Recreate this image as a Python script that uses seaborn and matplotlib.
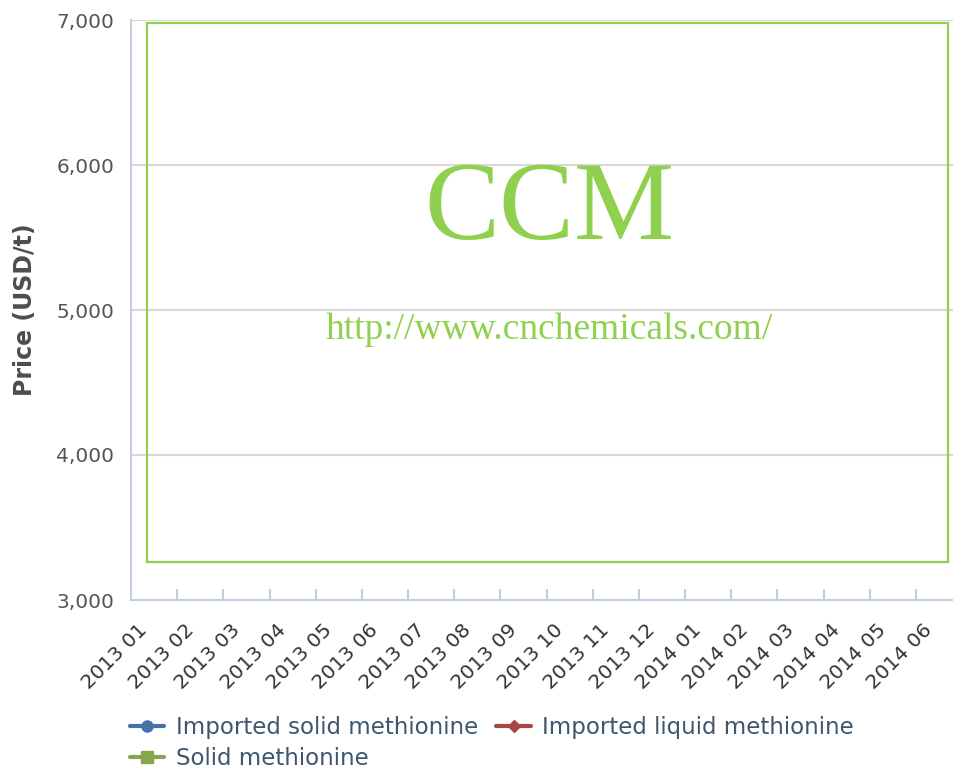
import numpy as np
import pandas as pd
import matplotlib
matplotlib.use('Agg')
import matplotlib.pyplot as plt
from matplotlib.patches import Rectangle
import seaborn as sns

# categories on the x axis
months = ['2013 01', '2013 02', '2013 03', '2013 04', '2013 05', '2013 06',
          '2013 07', '2013 08', '2013 09', '2013 10', '2013 11', '2013 12',
          '2014 01', '2014 02', '2014 03', '2014 04', '2014 05', '2014 06']

# series shown in the legend - no points are visible in the picture
imported_solid = [np.nan] * len(months)
imported_liquid = [np.nan] * len(months)
solid = [np.nan] * len(months)

y_ticks = [3000, 4000, 5000, 6000, 7000]

sns.set_style('white')
plt.rcParams['font.family'] = ['DejaVu Sans']

fig = plt.figure(figsize=(9.54, 7.72), dpi=100)
W, H = 954, 772
ax = fig.add_axes([131 / W, 172 / H, 831 / W, 580 / H])

df = pd.DataFrame({'month': months,
                   'Imported solid methionine': imported_solid,
                   'Imported liquid methionine': imported_liquid,
                   'Solid methionine': solid})
x = np.arange(len(months))

styles = {
    'Imported solid methionine': dict(color='#4572A7', marker='o', markersize=8),
    'Imported liquid methionine': dict(color='#AA4643', marker='D', markersize=6),
    'Solid methionine': dict(color='#89A54E', marker='s', markersize=8),
}
handles = {}
for name, st in styles.items():
    line, = ax.plot(x, df[name], lw=3, label=name, **st)
    handles[name] = line

ax.set_xlim(-0.5, len(months) - 0.5)
ax.set_ylim(3000, 7000)
ax.set_yticks(y_ticks)
ax.set_yticklabels([f'{v:,}' for v in y_ticks])
ax.yaxis.grid(True, color='#D8D8D8', lw=1.5)
ax.set_axisbelow(True)
ax.tick_params(axis='y', length=0, pad=12, labelsize=14.5, labelcolor='#555555')

ax.set_xticks(x - 0.12)
ax.set_xticklabels(months, rotation=45, ha='right', va='baseline',
                   rotation_mode='anchor', fontsize=14.5, color='#333333')
ax.set_xticks(np.arange(0.5, len(months) - 1, 1), minor=True)
ax.tick_params(axis='x', which='major', length=0, pad=22)
ax.tick_params(axis='x', which='minor', bottom=True, direction='in', length=8,
               color='#C0D0E0', width=1.5)

for s in ['top', 'right']:
    ax.spines[s].set_visible(False)
for s in ['left', 'bottom']:
    ax.spines[s].set_color('#C0D0E0')
    ax.spines[s].set_linewidth(1.5)

ax.set_ylabel('Price (USD/t)', fontsize=17, fontweight='bold', color='#4D4D4D',
              labelpad=14)

# watermark frame and text
green = '#8FD14F'
fig.patches.append(Rectangle((147 / W, 1 - 562 / H), (948 - 147) / W, (562 - 23) / H,
                             transform=fig.transFigure, fill=False,
                             edgecolor=green, lw=1.6, zorder=5))
fig.text(549 / W, 1 - 212 / H, 'CCM', fontsize=81, color=green,
         family='Liberation Serif', ha='center', va='center')
fig.text(549 / W, 1 - 330 / H, 'http://www.cnchemicals.com/', fontsize=27,
         color=green, family='Liberation Serif', ha='center', va='center')

order = ['Imported solid methionine', 'Solid methionine', 'Imported liquid methionine']
fig.legend([handles[n] for n in order], order, ncol=2, frameon=False,
           loc='upper left', bbox_to_anchor=(130 / W, 1 - 716 / H),
           fontsize=16.5, labelcolor='#3E576F', handlelength=1.5,
           handletextpad=0.5, columnspacing=0.8, labelspacing=0.35,
           borderaxespad=0, borderpad=0)

fig.savefig('out.png', dpi=100)
